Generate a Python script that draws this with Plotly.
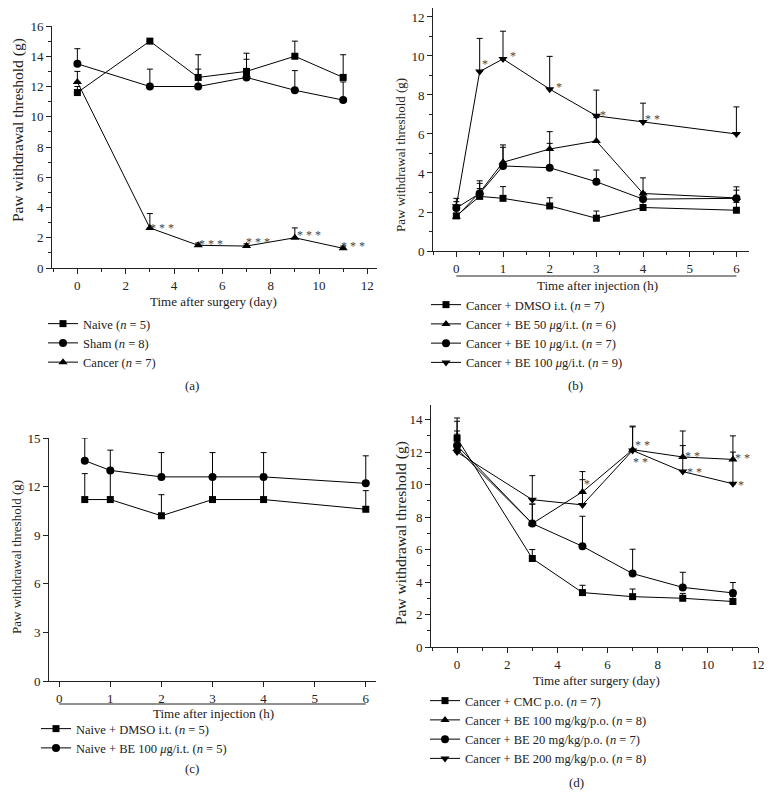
import plotly.graph_objects as go

# page body adds an 8 px margin; the figure fills the rest of the 772x796 window
OFF = 8
W, H = 772 - OFF, 796 - OFF
FONT = "Liberation Serif"

# ---------------- data ----------------
# (a) surgery time course
days_a = [0, 3, 5, 7, 9, 11]
naive_a = [11.6, 15.0, 12.6, 13.0, 14.0, 12.6]
naive_a_err = [0.4, 0.0, 1.5, 1.2, 1.0, 1.5]
sham_a = [13.5, 12.0, 12.0, 12.6, 11.75, 11.1]
sham_a_err = [1.0, 1.15, 1.15, 1.2, 1.3, 1.2]
cancer_a = [12.3, 2.65, 1.5, 1.45, 2.0, 1.3]
cancer_a_err = [0.7, 0.95, 0.15, 0.15, 0.65, 0.15]
sig_a_x = [3.52, 5.54, 7.47, 9.6, 11.42]
sig_a_y = [2.85, 1.8, 1.9, 2.4, 1.65]
sig_a_txt = ["* * *"] * 5

# (b) intrathecal injection, cancer
hours_b = [0, 0.5, 1, 2, 3, 4, 6]
dmso_b = [1.8, 2.8, 2.7, 2.31, 1.68, 2.23, 2.09]
dmso_b_err = [0.3, 0.4, 0.6, 0.42, 0.37, 0.3, 0.4]
be50_b = [1.75, 3.0, 4.55, 5.23, 5.64, 2.95, 2.72]
be50_b_err = [0.4, 0.6, 0.89, 0.89, 1.2, 0.8, 0.57]
be10_b = [2.2, 2.95, 4.36, 4.27, 3.55, 2.66, 2.7]
be10_b_err = [0.33, 0.52, 0.96, 1.25, 0.6, 0.35, 0.42]
be100_b = [2.3, 9.2, 9.85, 8.3, 6.93, 6.62, 6.0]
be100_b_err = [0.4, 1.7, 1.42, 1.68, 1.32, 0.96, 1.39]
sig_b_x = [0.62, 1.21, 2.19, 3.15, 4.21]
sig_b_y = [9.72, 10.15, 8.57, 7.15, 6.9]
sig_b_txt = ["*", "*", "*", "*", "* *"]

# (c) intrathecal injection, naive
hours_c = [0.5, 1, 2, 3, 4, 6]
dmso_c = [11.2, 11.2, 10.2, 11.2, 11.2, 10.6]
dmso_c_err = [1.6, 1.7, 1.3, 1.3, 1.3, 1.15]
be100_c = [13.6, 13.0, 12.6, 12.6, 12.6, 12.2]
be100_c_err = [1.4, 1.25, 1.5, 1.5, 1.5, 1.7]

# (d) oral treatment
days_d = [0, 3, 5, 7, 9, 11]
cmc_d = [12.85, 5.45, 3.35, 3.1, 3.0, 2.8]
cmc_d_err = [0.45, 0.55, 0.45, 0.47, 0.3, 0.3]
be100_d = [12.2, 7.6, 9.55, 12.15, 11.7, 11.55]
be100_d_err = [1.9, 1.2, 1.25, 1.45, 1.6, 1.45]
be20_d = [12.4, 7.6, 6.2, 4.52, 3.67, 3.33]
be20_d_err = [1.5, 1.2, 1.85, 1.5, 0.93, 0.64]
be200_d = [12.0, 9.07, 8.75, 12.1, 10.8, 10.05]
be200_d_err = [1.1, 1.48, 1.55, 1.45, 1.6, 1.95]
sig_d_x = [5.18, 7.38, 7.3, 9.4, 9.46, 11.39, 11.32]
sig_d_y = [10.2, 12.6, 11.55, 11.95, 10.93, 11.8, 10.14]
sig_d_txt = ["*", "* *", "* *", "* *", "* *", "* *", "*"]

# ---------------- helpers (window pixels -> paper fractions) ----------------
def px(x):
    return (x - OFF) / W

def py(y):
    return 1 - (y - OFF) / H

SYM = {"sq": "square", "ci": "circle", "up": "triangle-up", "dn": "triangle-down"}
MSIZE = {"sq": 7, "ci": 8, "up": 8, "dn": 8}

fig = go.Figure()

def add(x, y, err, name, sym, ax, legend):
    fig.add_trace(go.Scatter(
        x=x, y=y, name=name, mode="lines+markers",
        xaxis="x" + ax, yaxis="y" + ax, legend=legend,
        line=dict(color="black", width=1),
        marker=dict(symbol=SYM[sym], size=MSIZE[sym], color="black"),
        error_y=dict(type="data", array=err, arrayminus=[0] * len(err),
                     symmetric=False, color="black", thickness=1, width=3),
        cliponaxis=False,
    ))

add(days_a, naive_a, naive_a_err, "Naive (<i>n</i> = 5)", "sq", "", "legend")
add(days_a, sham_a, sham_a_err, "Sham (<i>n</i> = 8)", "ci", "", "legend")
add(days_a, cancer_a, cancer_a_err, "Cancer (<i>n</i> = 7)", "up", "", "legend")

add(hours_b, dmso_b, dmso_b_err, "Cancer + DMSO i.t. (<i>n</i> = 7)", "sq", "2", "legend2")
add(hours_b, be50_b, be50_b_err, "Cancer + BE 50 <i>μ</i>g/i.t. (<i>n</i> = 6)", "up", "2", "legend2")
add(hours_b, be10_b, be10_b_err, "Cancer + BE 10 <i>μ</i>g/i.t. (<i>n</i> = 7)", "ci", "2", "legend2")
add(hours_b, be100_b, be100_b_err, "Cancer + BE 100 <i>μ</i>g/i.t. (<i>n</i> = 9)", "dn", "2", "legend2")

add(hours_c, dmso_c, dmso_c_err, "Naive + DMSO i.t. (<i>n</i> = 5)", "sq", "3", "legend3")
add(hours_c, be100_c, be100_c_err, "Naive + BE 100 <i>μ</i>g/i.t. (<i>n</i> = 5)", "ci", "3", "legend3")

add(days_d, cmc_d, cmc_d_err, "Cancer + CMC p.o. (<i>n</i> = 7)", "sq", "4", "legend4")
add(days_d, be100_d, be100_d_err, "Cancer + BE 100 mg/kg/p.o. (<i>n</i> = 8)", "up", "4", "legend4")
add(days_d, be20_d, be20_d_err, "Cancer + BE 20 mg/kg/p.o. (<i>n</i> = 7)", "ci", "4", "legend4")
add(days_d, be200_d, be200_d_err, "Cancer + BE 200 mg/kg/p.o. (<i>n</i> = 8)", "dn", "4", "legend4")

def axis(domain, rng, dtick, anchor, minor=True):
    d = dict(domain=[max(0, domain[0]), min(1, domain[1])], range=rng, dtick=dtick,
             tick0=0, anchor=anchor,
             showline=True, linecolor="#222", linewidth=1, ticks="outside",
             ticklen=5, tickwidth=1, tickcolor="#222", showgrid=False,
             zeroline=False, automargin=False,
             tickfont=dict(family=FONT, size=13, color="#222"),
             fixedrange=True)
    if minor:
        d["minor"] = dict(dtick=dtick / 2, tick0=0, ticks="outside", ticklen=3,
                          tickcolor="#222", showgrid=False)
    return d

layout = dict(
    width=W, height=H,
    margin=dict(l=0, r=0, t=0, b=0, pad=0, autoexpand=False),
    paper_bgcolor="white", plot_bgcolor="white",
    font=dict(family=FONT, size=13, color="#222"),
    xaxis=axis([px(52), px(377)], [-1.05, 12.4], 2, "y"),
    yaxis=axis([py(268), py(26)], [0, 16], 2, "x"),
    xaxis2=axis([px(433), px(749)], [-0.5, 6.27], 1, "y2"),
    yaxis2=axis([py(251), py(8)], [0, 12.46], 2, "x2"),
    xaxis3=axis([px(49), px(376)], [-0.2, 6.2], 1, "y3", minor=False),
    yaxis3=axis([py(681), py(438)], [0, 15], 3, "x3", minor=False),
    xaxis4=axis([px(431), px(758)], [-1.04, 12], 2, "y4"),
    yaxis4=axis([py(647), py(405)], [0, 14.9], 2, "x4"),
)

def leg(left, top):
    return dict(x=px(left), y=py(top), xanchor="left", yanchor="top",
                bgcolor="rgba(0,0,0,0)", tracegroupgap=0, itemwidth=30,
                font=dict(family=FONT, size=12.5, color="#222"))

layout["legend"] = leg(43, 309)
layout["legend2"] = leg(426, 290)
layout["legend3"] = leg(36, 714)
layout["legend4"] = leg(425, 686)
layout["showlegend"] = True

ann = []
def text(x, y, s, size=13, angle=0):
    ann.append(dict(x=px(x), y=py(y), xref="paper", yref="paper", text=s,
                    showarrow=False, textangle=angle, xanchor="center",
                    yanchor="middle", font=dict(family=FONT, size=size, color="#222")))

# axis titles
text(214, 302, "Time after surgery (day)")
text(597, 285, "Time after injection (h)")
text(213, 713, "Time after injection (h)")
text(596, 680, "Time after surgery (day)")
text(18, 130, "Paw withdrawal threshold (g)", 15.5, -90)
text(401, 155, "Paw withdrawal threshold (g)", 13, -90)
text(16, 557, "Paw withdrawal threshold (g)", 13, -90)
text(401, 533, "Paw withdrawal threshold (g)", 15.5, -90)
# panel labels
text(192, 386, "(a)")
text(575, 386, "(b)")
text(192, 768, "(c)")
text(576, 782, "(d)")

def sig(xs, ys, ts, ax):
    for x, y, t in zip(xs, ys, ts):
        ann.append(dict(x=x, y=y, xref="x" + ax, yref="y" + ax, text=t,
                        showarrow=False, xanchor="center", yanchor="middle",
                        yshift=-3, font=dict(family=FONT, size=12, color="#444")))

sig(sig_a_x, sig_a_y, sig_a_txt, "")
sig(sig_b_x, sig_b_y, sig_b_txt, "2")
sig(sig_d_x, sig_d_y, sig_d_txt, "4")

layout["annotations"] = ann
layout["shapes"] = [
    dict(type="line", xref="x2", yref="paper", x0=0, x1=6, y0=py(276), y1=py(276),
         line=dict(color="#222", width=1)),
    dict(type="line", xref="x3", yref="paper", x0=0, x1=6, y0=py(704), y1=py(704),
         line=dict(color="#222", width=1)),
]

fig.update_layout(**layout)
fig.write_html("out.html")
